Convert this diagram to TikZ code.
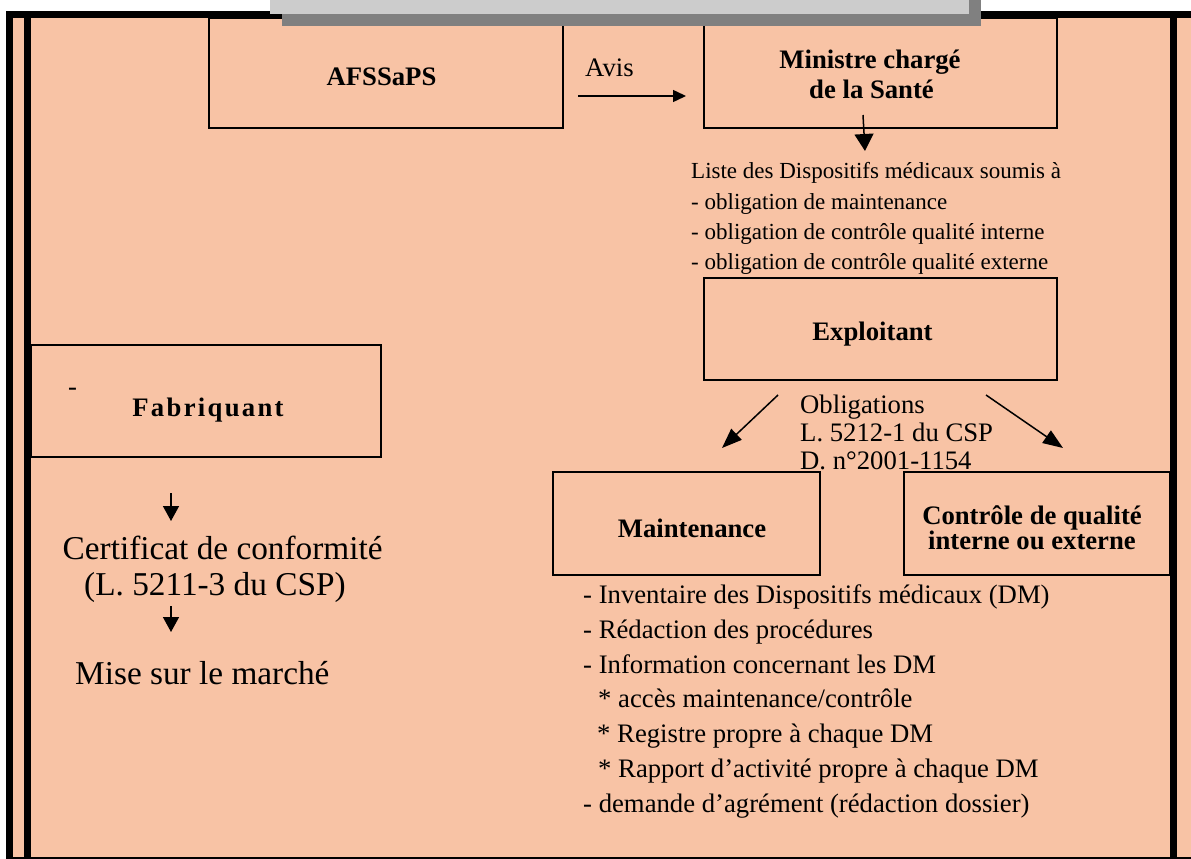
\documentclass[tikz,border=0pt]{standalone}
\usepackage{fontspec}
\setmainfont{Liberation Serif}
\usetikzlibrary{arrows.meta,fit}
\definecolor{peach}{RGB}{248,195,165}
\definecolor{hdrlight}{RGB}{204,204,204}
\definecolor{hdrdark}{RGB}{128,128,128}
\newcommand\setfs[1]{\fontsize{#1}{#1}\selectfont}
\begin{document}
\begin{tikzpicture}[x=1pt,y=-1pt,
  box/.style={draw=black, line width=1.4pt, inner sep=0pt},
  boldlbl/.style={font=\setfs{26.7}\bfseries, inner sep=0pt, anchor=base},
  txt/.style={font=\setfs{26.7}, inner sep=0pt, anchor=base west},
  smalltxt/.style={font=\setfs{23}, inner sep=0pt, anchor=base west},
  bigtxt/.style={font=\setfs{33.3}, inner sep=0pt, anchor=base west},
  bar/.style={fill=black, draw=none},
  arrA/.style={line width=1.5pt, -{Triangle[length=13pt,width=12pt]}},
  arrV/.style={line width=1.5pt, -{Triangle[length=17pt,width=19pt]}},
  arrD/.style={line width=1.5pt, -{Triangle[length=20pt,width=15pt]}},
  arrS/.style={line width=1.5pt, -{Triangle[length=15pt,width=16pt]}},
]
\useasboundingbox (0,0) rectangle (1191,859);
% background
\fill[peach] (6,11) rectangle (1191,859);

% boxes
\node[box, fit={(209,18) (563,128)}] (afssaps) {};
\node[box, fit={(704,18) (1057,128)}] (ministre) {};
\node[box, fit={(704,278) (1057,380)}] (exploitant) {};
\node[box, fit={(31,345) (381,457)}] (fabriquant) {};
\node[box, fit={(553,472) (820,575)}] (maintenance) {};
\node[box, fit={(904,472) (1170,575)}] (controle) {};

% border bars
\fill[bar] (6,11) rectangle (1191,18);
\fill[bar] (6,11) rectangle (13,859);
\fill[bar] (24,18) rectangle (31,859);
\fill[bar] (1170,18) rectangle (1177,859);
\fill[bar] (6,857) rectangle (1191,859);

% header strip
\fill[hdrdark] (282,0) rectangle (981,26);
\fill[hdrlight] (270,0) rectangle (969,14);

% box labels
\node[boldlbl] (afssapsT) at (381.5,85) {AFSSaPS};
\node[boldlbl] (ministreT1) at (870,68) {Ministre chargé};
\node[boldlbl] (ministreT2) at (871.5,98) {de la Santé};
\node[boldlbl] (exploitantT) at (872.5,340) {Exploitant};
\node[boldlbl, font=\setfs{26.7}\bfseries\addfontfeatures{LetterSpace=8.6}] (fabriquantT) at (208,416) {Fabriquant};
\node[txt] (fabdash) at (68,395) {-};
\node[boldlbl] (maintenanceT) at (692,537) {Maintenance};
\node[font=\fontsize{26.7}{22}\selectfont\bfseries, inner sep=0pt, align=center, anchor=center] (controleT) at (1032,528) {Contrôle de qualité\\interne ou externe};

% Avis
\node[txt] (avis) at (585,77) {Avis};
\coordinate (avisA) at (578,96);
\coordinate (avisB) at (686,96);
\draw[arrA] (avisA) -- (avisB);

% Ministre -> liste
\coordinate (minA) at (863,115);
\coordinate (minB) at (865,151);
\draw[arrV] (minA) -- (minB);
\node[smalltxt] (liste0) at (691,178) {Liste des Dispositifs médicaux soumis à};
\node[smalltxt] (liste1) at (691,209) {- obligation de maintenance};
\node[smalltxt] (liste2) at (691,239) {- obligation de contrôle qualité interne};
\node[smalltxt] (liste3) at (691,269) {- obligation de contrôle qualité externe};

% Obligations
\node[txt] (oblig1) at (800,413) {Obligations};
\node[txt] (oblig2) at (800,441) {L. 5212-1 du CSP};
\node[txt] (oblig3) at (800,469) {D. n°2001-1154};
\coordinate (dlA) at (778,395);
\coordinate (dlB) at (722,448);
\coordinate (drA) at (986,395);
\coordinate (drB) at (1063,448);
\draw[arrD] (dlA) -- (dlB);
\draw[arrD] (drA) -- (drB);

% Fabriquant chain
\coordinate (f1A) at (171,493);
\coordinate (f1B) at (171,521);
\draw[arrS] (f1A) -- (f1B);
\node[bigtxt] (cert1) at (62.5,559) {Certificat de conformité};
\node[bigtxt] (cert2) at (84,595) {(L. 5211-3 du CSP)};
\coordinate (f2A) at (171,606);
\coordinate (f2B) at (171,632);
\draw[arrS] (f2A) -- (f2B);
\node[bigtxt] (mise) at (75,684) {Mise sur le marché};

% Maintenance list
\node[txt] (m1) at (583,603) {- Inventaire des Dispositifs médicaux (DM)};
\node[txt] (m2) at (583,638) {- Rédaction des procédures};
\node[txt] (m3) at (583,673) {- Information concernant les DM};
\node[txt] (m4) at (598,707) {* accès maintenance/contrôle};
\node[txt] (m5) at (597,742) {* Registre propre à chaque DM};
\node[txt] (m6) at (598,777) {* Rapport d’activité propre à chaque DM};
\node[txt] (m7) at (583,812) {- demande d’agrément (rédaction dossier)};
\end{tikzpicture}
\end{document}
